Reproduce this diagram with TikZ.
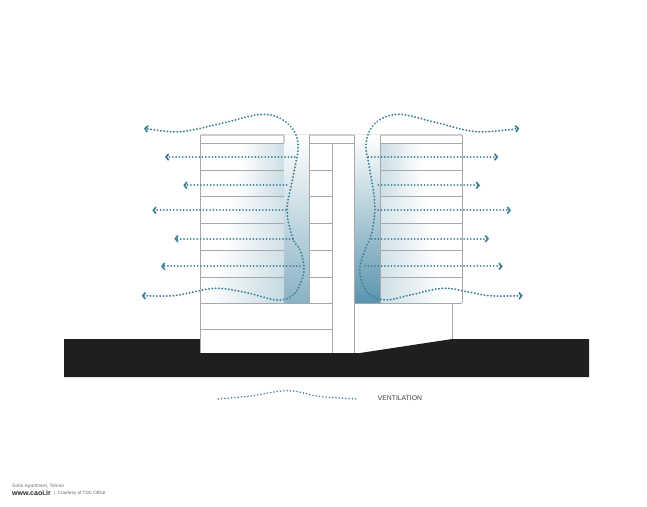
\documentclass[tikz,border=0pt]{standalone}
\usepackage{fontspec}
\setmainfont{Liberation Sans}
\usetikzlibrary{arrows.meta}
\definecolor{airblue}{HTML}{3F8096}
\definecolor{tint}{HTML}{5A94AD}
\definecolor{wallgrey}{HTML}{A8A8A8}
\definecolor{toplight}{HTML}{CDCDCD}
\definecolor{groundblack}{HTML}{1F1F1F}
\tikzset{
  air/.style={draw=airblue,line width=1.7pt,line cap=round,dash pattern=on 0.15pt off 3.15pt},
  chevron/.tip={Straight Barb[length=2.6pt,width=6.4pt,line width=1.7pt]},
  airtip/.style={air,-chevron},
  airboth/.style={air,line width=2pt,chevron-chevron},
  wall/.style={draw=wallgrey,line width=1pt},
  topwall/.style={draw=toplight,line width=1.7pt},
  label/.style={inner sep=0pt,anchor=west,text=#1},
}
\begin{document}
\begin{tikzpicture}[x=1pt,y=-1pt]
\useasboundingbox (0,0) rectangle (647,506);
\fill[white] (0,0) rectangle (647,506);
% ground
\fill[groundblack] (64,339) -- (200.7,339) -- (200.7,353) -- (360,353) -- (452.3,339) -- (589,339) -- (589,377) -- (64,377) -- cycle;
% left floor gradients
\foreach \ya/\yb/\sx/\pc in {143.3/170.3/240/30,170.3/196.7/235/33,196.7/223.3/228/28,223.3/250.3/224/28,250.3/277/214/30,277/303.3/205/35}{
  \shade[left color=white,right color=tint!\pc!white] (\sx,\ya) rectangle (284,\yb);
}
% right floor gradients
\foreach \ya/\yb/\sx/\pc in {143.3/170.3/422/32,170.3/196.7/424/30,196.7/223.3/428/25,223.3/250.3/432/28,250.3/277/438/28,277/303.3/445/30}{
  \shade[right color=white,left color=tint!\pc!white] (380.7,\ya) rectangle (\sx,\yb);
}
% voids
\shade[top color=white,middle color=tint!25!white,bottom color=tint!72!white] (284,135) rectangle (309.3,303.3);
\shade[top color=white,middle color=tint!28!white,bottom color=tint!100!black] (354.3,135) rectangle (380.7,303.3);
% walls
\draw[topwall] (200.7,134.7) -- (284,134.7);
\draw[topwall] (309.3,134.7) -- (354.3,134.7);
\draw[topwall] (380.7,134.7) -- (462.3,134.7);
\draw[draw=toplight!40!white,line width=1.4pt] (284,134.7) -- (309.3,134.7) (354.3,134.7) -- (380.7,134.7);
\draw[topwall] (284,134.7) -- (284,143.3);
\draw[wall] (200.7,134.7) -- (200.7,353);
\draw[wall] (462.3,134.7) -- (462.3,303.3);
\draw[wall] (309.3,134.7) -- (309.3,303.3);
\draw[wall] (354.3,134.7) -- (354.3,353);
\draw[wall] (380.7,134.7) -- (380.7,303.3);
\draw[wall] (332.3,143.3) -- (332.3,353);
\draw[wall] (452.3,303.3) -- (452.3,339);
\draw[wall] (309.3,143.3) -- (354.3,143.3);
\foreach \y in {143.3,170.3,196.7,223.3,250.3,277}{
  \draw[wall] (200.7,\y) -- (284,\y);
  \draw[wall] (309.3,\y) -- (332.3,\y);
  \draw[wall] (380.7,\y) -- (462.3,\y);
}
\draw[wall] (200.7,303.3) -- (332.3,303.3);
\draw[wall] (354.3,303.3) -- (462.3,303.3);
\draw[wall] (200.7,329.3) -- (332.3,329.3);
% straight air flows
\foreach \y/\s/\t in {157/295/165,185.3/286.7/183.3,210.3/286/152.3,238.7/293/174.3,266.3/300/161,
                      157/368.3/498.3,185.3/378.3/480,210.3/378/511,238.7/371.7/489,266.3/365/502.7}{
  \draw[airtip] (\s,\y) -- (\t,\y);
}
% curved air flows
\draw[airboth] plot[smooth,tension=0.6] coordinates {(141.7,295.7) (173,295.7) (190,292.7) (216.7,288.3) (246.7,292.7) (276.7,300) (293,295) (301.7,280) (304,266.7) (300,250) (293,238.7) (287,210) (293,177) (298,143) (287,123) (263,114.3) (223,123) (180,131.7) (144,128.3)};
\draw[airboth] plot[smooth,tension=0.6] coordinates {(522.7,295.7) (490,295.7) (470,292.3) (443.3,288.3) (410,295) (386.7,300) (370,295) (361.7,281.7) (360,266.7) (365,250) (371.7,233.3) (375,210) (374.3,196.7) (369.3,166.7) (366,143.3) (375,123.3) (398.3,114.3) (436.7,122.7) (476.7,131.7) (519.3,128.3)};
% legend
\draw[air,line width=1.6pt] plot[smooth,tension=0.6] coordinates {(218.3,399) (250,396) (288,390.7) (320,396.5) (358,399)};
\node[label=black!75,font=\fontsize{6.8}{8}\selectfont] (legend) at (377.7,398.5) {VENTILATION};
% credits
\node[label=black!55,font=\fontsize{4.8}{6}\selectfont] (place) at (12,486) {Saba Apartment, Tehran};
\node[label=black!85,font=\fontsize{7}{8}\selectfont\bfseries] (site) at (12,493.3) {www.caoi.ir};
\node[label=black!60,font=\fontsize{4.6}{6}\selectfont] (credit) at (54,493.3) {|\ \ Courtesy of TDC Office};
\end{tikzpicture}
\end{document}
